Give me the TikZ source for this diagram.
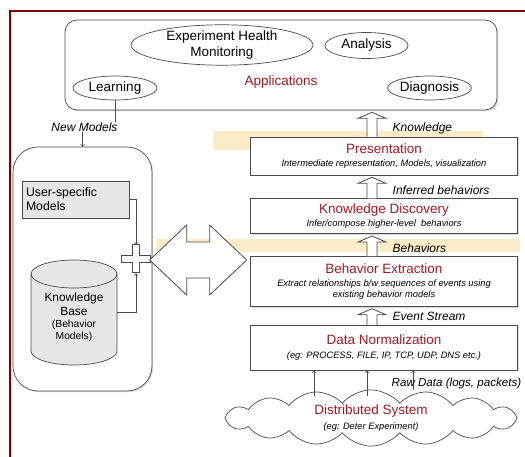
\documentclass[tikz,border=0pt]{standalone}
\usepackage{fontspec}
\setmainfont{Liberation Sans}
\usepackage{xcolor}
\usepackage{tikz}
\usetikzlibrary{positioning}
\usetikzlibrary{arrows,calc,shadows,shapes.geometric,shapes.symbols}
\definecolor{darkred}{HTML}{9E1C22}
\definecolor{framered}{HTML}{800000}
\definecolor{band}{HTML}{FBEBC6}
\definecolor{boxgray}{HTML}{E6E6E6}
\definecolor{linegray}{HTML}{4A4A4A}
\tikzset{edge/.style = {->,> = to}}
\newcommand{\stagetitle}[1]{{\color{darkred}\fontsize{13.5}{16}\selectfont #1}}
\newcommand{\stagenote}[1]{{\fontsize{9.3}{11}\selectfont\itshape #1}}

\begin{document}
\begin{tikzpicture}[x=1pt,y=-1pt,line width=0.7pt,
    softshadow/.style={drop shadow={shadow xshift=1.2pt,shadow yshift=-1.2pt,opacity=0.3}},
    app/.style={ellipse,draw=linegray,fill=white,inner sep=0pt,align=center,font=\fontsize{13.5}{16}\selectfont},
    stage/.style={draw=linegray,fill=white,minimum width=267pt,align=center,inner sep=1pt,softshadow,font=\fontsize{9.3}{13.5}\selectfont},
    lbl/.style={font=\fontsize{12}{14}\selectfont\itshape},
    hollow/.style={draw=linegray,fill=white,line width=0.8pt}]
    \useasboundingbox (0,0) rectangle (525,457);

    % highlight bands
    \fill[band] (213,131) rectangle (483,150);
    \fill[band] (156,239) rectangle (520,252);

    % applications
    \node[draw=linegray,fill=white,rounded corners=12pt,minimum width=432pt,minimum height=90pt,softshadow] (apps) at (281,65) {};
    \node[text=darkred,font=\fontsize{13.5}{16}\selectfont] (appstxt) at (281,82) {Applications};
    \node[app,minimum width=182pt,minimum height=40pt] (ehm) at (222,45) {Experiment Health\\Monitoring};
    \node[app,minimum width=83pt,minimum height=26pt] (analysis) at (366.5,45.5) {Analysis};
    \node[app,minimum width=84pt,minimum height=24pt] (learn) at (115,88) {Learning};
    \node[app,minimum width=81pt,minimum height=24pt] (diag) at (429.5,88) {Diagnosis};

    % stages
    \node[stage,minimum height=38pt] (pres) at (384,156) {\stagetitle{Presentation}\\\stagenote{Intermediate representation, Models, visualization}};
    \node[stage,minimum height=35pt,below=23pt of pres] (kd) {\stagetitle{Knowledge Discovery}\\\stagenote{Infer/compose higher-level~ behaviors}};
    \node[stage,minimum height=50pt,below=22pt of kd] (be) {\stagetitle{Behavior Extraction}\\\stagenote{Extract relationships b/w sequences of events using}\\[-3pt]\stagenote{existing behavior models}};
    \node[stage,minimum height=45pt,below=18pt of be] (dn) {\stagetitle{Data Normalization}\\\stagenote{(eg: PROCESS, FILE, IP, TCP, UDP, DNS etc.)}};

    \foreach \lo/\hi/\txt in {pres/apps/Knowledge, kd/pres/Inferred behaviors, be/kd/Behaviors, dn/be/Event Stream}
        \draw[hollow] let \p1=(\lo.north), \p2=(\hi.south) in
            (\x1-17pt,\y1) -- (\x1-17pt,\y2-8pt) -- (\x1-26pt,\y2-8pt) -- (\x1-12pt,\y2-2pt)
            -- (\x1+2pt,\y2-8pt) -- (\x1-7pt,\y2-8pt) -- (\x1-7pt,\y1)
            node[lbl,anchor=west] at (\x1+5pt,\y1+8pt) {\txt};

    % knowledge base
    \node[draw=linegray,fill=white,rounded corners=25pt,minimum width=139pt,minimum height=244pt,softshadow] (kbbox) at (82.5,269) {};
    \node[draw=linegray,fill=boxgray,minimum height=37pt,text width=99pt,inner sep=4pt,align=left,font=\fontsize{12.3}{14}\selectfont] (user) at (75.5,199.5) {User-specific\\Models};
    \coordinate (kbc) at (74,312.5);
    \draw[draw=linegray,fill=boxgray] (kbc) ++(-43,-38.5) -- ++(0,77)
        arc[start angle=180,end angle=360,x radius=43pt,y radius=14pt] -- ++(0,-77)
        arc[start angle=0,end angle=180,x radius=43pt,y radius=14pt] -- cycle;
    \draw[draw=linegray] (kbc) ++(-43,-38.5) arc[start angle=180,end angle=360,x radius=43pt,y radius=14pt];
    \node[minimum width=86pt,minimum height=105pt,inner sep=0pt,align=center,font=\fontsize{11.9}{14}\selectfont] (kb) at (kbc)
        {\\[4pt]Knowledge\\Base\\[-2pt]{\fontsize{10.3}{12}\selectfont(Behavior}\\[-2pt]{\fontsize{10.3}{12}\selectfont Models)}};

    \node[minimum width=29pt,minimum height=28pt,inner sep=0pt] (plus) at (136,259) {};
    \draw[edge,draw=linegray] (user.east) -| (plus.north);
    \draw[edge,draw=linegray] (kb.east) -| (plus.south);
    \draw[draw=linegray,fill=white] (plus.north) ++(-3.5,0) -- ++(7,0) -- ++(0,11) -- ++(11,0) -- ++(0,7)
        -- ++(-11,0) -- ++(0,10) -- ++(-7,0) -- ++(0,-10) -- ++(-11,0) -- ++(0,-7) -- ++(11,0) -- cycle;

    \node[minimum width=97pt,minimum height=70pt,inner sep=0pt] (link) at (198.5,260) {};
    \draw[hollow] (link.west) -- ++(37,-35) -- ++(0,17) -- ++(23,0) -- ++(0,-17) -- ++(37,35)
        -- ++(-37,35) -- ++(0,-17) -- ++(-23,0) -- ++(0,17) -- cycle;

    \draw[edge,draw=linegray] (learn.south) -- ++(0,27) -| (kbbox.north)
        node[lbl,fill=white,inner sep=0.5pt,pos=0.5,xshift=2pt] {New Models};

    % distributed system
    \node[cloud,draw=linegray,fill=white,cloud puffs=16,cloud puff arc=100,aspect=5.6,minimum width=292pt,minimum height=52pt,inner sep=0pt,align=center,font=\fontsize{9.3}{15}\selectfont] (cloud) at (371,418)
        {\stagetitle{Distributed System}\\\stagenote{(eg: Deter Experiment)}};
    \foreach \dx/\dy in {-57/6,-4/6,42/0} {
        \path (cloud.north) ++(\dx,\dy) coordinate (src);
        \draw[edge,draw=linegray] (src) -- (src |- dn.south);
    }
    \node[lbl,anchor=west,font=\fontsize{11.6}{14}\selectfont\itshape] (rawlbl) at (388,384) {Raw Data (logs, packets)};

    \draw[framered,line width=2.5pt] (10,458) -- (10,11) -- (526,11);
\end{tikzpicture}
\end{document}
